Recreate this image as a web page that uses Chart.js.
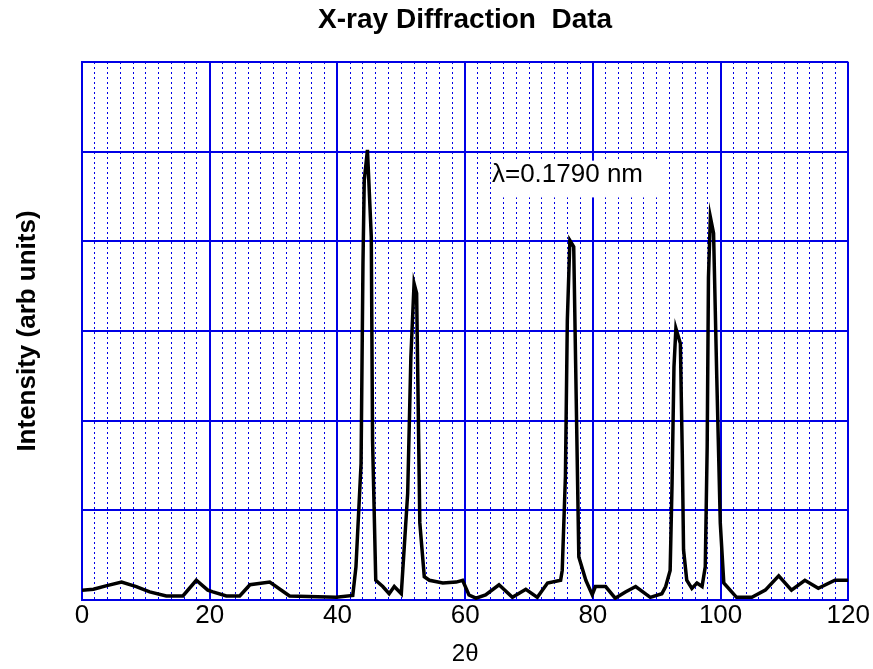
<!DOCTYPE html>
<html>
<head>
<meta charset="utf-8">
<script src="https://cdn.jsdelivr.net/npm/chart.js@4.4.1/dist/chart.umd.min.js"></script>
<style>
  html, body { margin: 0; padding: 0; background: #fff; }
  #wrap { width: 873px; height: 669px; }
</style>
</head>
<body>
<div id="wrap"><canvas id="xrd" width="873" height="669"></canvas></div>
<script>
/* ---------- data ---------- */
const twoTheta = [
  0, 1.8, 3.9, 6.2, 8.5, 10.6, 13.2, 15.8, 17.9, 19.7,
  20.5, 22.6, 24.7, 26.3, 29.4, 32.5, 39.8, 42.4, 42.9, 43.7,
  44.0, 44.2, 44.7, 45.3, 45.5, 46.0, 47.1, 48.1, 48.9, 50.0,
  51.0, 51.5, 52.0, 52.4, 52.6, 52.9, 53.6, 54.4, 56.5, 58.6,
  59.6, 60.6, 61.7, 63.2, 65.3, 67.4, 69.5, 71.3, 72.9, 74.95,
  75.2, 75.7, 76.0, 76.4, 77.0, 77.3, 77.8, 78.9, 79.9, 80.4,
  82.0, 83.5, 85.1, 86.7, 89.0, 90.8, 91.4, 92.1, 92.4, 92.7,
  93.0, 93.7, 94.0, 94.2, 94.7, 95.5, 96.3, 97.1, 97.6, 97.9,
  98.1, 98.4, 98.9, 99.4, 99.95, 100.5, 102.5, 104.9, 107.0, 109.1,
  111.1, 113.2, 115.3, 117.9, 120
];
const intensity = [
  0.11, 0.12, 0.16, 0.20, 0.15, 0.09, 0.045, 0.045, 0.22, 0.11,
  0.09, 0.045, 0.045, 0.17, 0.20, 0.045, 0.03, 0.05, 0.37, 1.52,
  3.76, 4.68, 5.02, 4.05, 1.78, 0.22, 0.15, 0.07, 0.15, 0.07,
  1.19, 2.71, 3.53, 3.42, 2.40, 0.86, 0.26, 0.22, 0.19, 0.20,
  0.22, 0.056, 0.02, 0.056, 0.17, 0.03, 0.12, 0.03, 0.19, 0.22,
  0.33, 1.38, 3.12, 4.01, 3.94, 2.64, 0.48, 0.22, 0.06, 0.15,
  0.15, 0.02, 0.09, 0.15, 0.03, 0.07, 0.15, 0.33, 1.30, 2.60,
  3.03, 2.86, 1.64, 0.56, 0.22, 0.13, 0.19, 0.15, 0.37, 1.71,
  3.60, 4.27, 4.09, 2.49, 0.86, 0.19, 0.03, 0.03, 0.11, 0.27,
  0.11, 0.22, 0.13, 0.22, 0.22
];
const xTickLabels = [0, 20, 40, 60, 80, 100, 120];
const wavelengthNote = "\u03bb=0.1790 nm";

const BLUE = "#0000e6";
const FONT = "'Liberation Sans', Arial, sans-serif";

// λ 라벨 (흰 배경 박스)
const notePlugin = {
  id: "note",
  afterDatasetsDraw(chart) {
    const { ctx, scales: { x, y } } = chart;
    const bx0 = x.getPixelForValue(64.8), bx1 = x.getPixelForValue(91.6);
    const by0 = y.getPixelForValue(4.9), by1 = y.getPixelForValue(4.49);
    ctx.save();
    ctx.fillStyle = "#fff";
    ctx.fillRect(bx0, by0, bx1 - bx0, by1 - by0);
    ctx.fillStyle = "#000";
    ctx.font = "26px " + FONT;
    ctx.textBaseline = "middle";
    ctx.fillText(wavelengthNote, x.getPixelForValue(64.2), y.getPixelForValue(4.74));
    ctx.restore();
  }
};

const isMajor = v => Math.abs(v % 20) < 1e-6;

new Chart(document.getElementById("xrd"), {
  type: "line",
  data: {
    datasets: [{
      data: twoTheta.map((t, i) => ({ x: t, y: intensity[i] })),
      borderColor: "#000", borderWidth: 3.5, tension: 0, pointRadius: 0, fill: false
    }]
  },
  options: {
    responsive: false, animation: false, devicePixelRatio: 1,
    layout: { padding: { left: 0, right: 23, top: 0, bottom: 0 } },
    scales: {
      x: {
        type: "linear", min: 0, max: 120,
        ticks: {
          stepSize: 2, autoSkip: false, maxRotation: 0, padding: 3, color: "#000",
          font: { family: FONT, size: 26, lineHeight: 1 },
          callback: v => xTickLabels.includes(v) ? String(v) : ""
        },
        grid: {
          drawTicks: false,
          color: BLUE,
          lineWidth: c => (c.tick && isMajor(c.tick.value)) ? 2 : 1
        },
        border: {
          display: true, color: BLUE, width: 2,
          dash: c => (c.tick && !isMajor(c.tick.value)) ? [2, 3] : []
        },
        title: { display: true, text: "2\u03b8", color: "#000", font: { family: FONT, size: 24 }, padding: { top: 0, bottom: 0 } },
        afterFit: s => { s.height = 69; }
      },
      y: {
        min: 0, max: 6,
        ticks: { stepSize: 1, display: false },
        grid: { drawTicks: false, color: BLUE, lineWidth: 2 },
        border: { display: true, color: BLUE, width: 2 },
        title: { display: true, text: "Intensity (arb units)", color: "#000", font: { family: FONT, size: 26, weight: "bold" }, padding: { top: 12, bottom: 0 } },
        afterFit: s => { s.width = 82; }
      }
    },
    plugins: {
      legend: { display: false },
      tooltip: { enabled: false },
      title: {
        display: true, fullSize: false, text: "X-ray Diffraction  Data", color: "#000",
        font: { family: FONT, size: 28, weight: "bold" },
        padding: { top: 3, bottom: 25.4 }
      }
    }
  },
  plugins: [notePlugin]
});
</script>
</body>
</html>
